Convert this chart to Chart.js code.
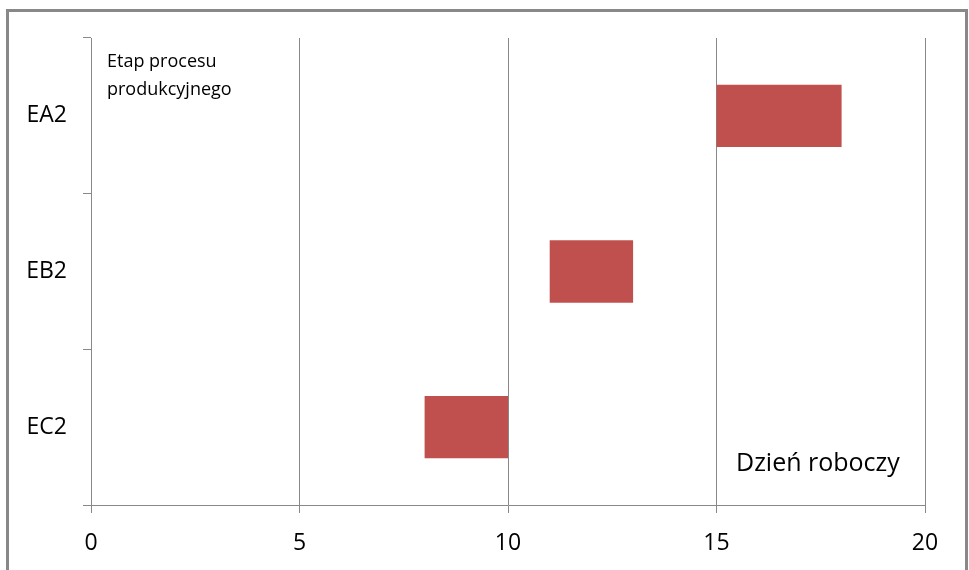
<!DOCTYPE html>
<html>
<head>
<meta charset="utf-8">
<script src="https://cdn.jsdelivr.net/npm/chart.js@4"></script>
<style>
  body { margin: 0; background: #fff; }
  canvas { display: block; }
</style>
</head>
<body>
<canvas id="gantt" width="969" height="570"></canvas>
<script>
// etapy procesu i dni (start / koniec)
const categories = ['EA2', 'EB2', 'EC2'];
const startDays = [15, 11, 8];
const endDays = [18, 13, 10];
const xTicks = [0, 5, 10, 15, 20];

const fontFamily = '"Open Sans", "Liberation Sans", sans-serif';
const gridColor = '#888888';

// ramka i podpisy
const extras = {
    id: 'extras',
    beforeDraw(chart) {
        const ctx = chart.ctx;
        ctx.save();
        ctx.fillStyle = '#fff';
        ctx.fillRect(0, 0, chart.width, chart.height);
        ctx.strokeStyle = '#888888';
        ctx.lineWidth = 3;
        ctx.strokeRect(7.5, 10.5, 959, 620);
        ctx.restore();
    },
    afterDraw(chart) {
        const ctx = chart.ctx;
        ctx.save();
        ctx.fillStyle = '#000';
        ctx.textBaseline = 'alphabetic';
        ctx.font = '18px ' + fontFamily;
        ctx.fillText('Etap procesu', 107, 67);
        ctx.fillText('produkcyjnego', 107, 95);
        ctx.font = '25px ' + fontFamily;
        ctx.fillText('Dzień roboczy', 736, 471);
        ctx.restore();
    }
};

const ctx = document.getElementById('gantt').getContext('2d');
const chart = new Chart(ctx, {
    type: 'bar',
    data: {
        labels: categories,
        datasets: [{
            data: startDays.map((s, i) => [s, endDays[i]]),
            backgroundColor: '#C0504D',
            borderColor: '#C0504D',
            borderWidth: 0,
            barPercentage: 0.4,
            categoryPercentage: 1
        }]
    },
    options: {
        indexAxis: 'y',
        responsive: false,
        animation: false,
        layout: { padding: { top: 38, right: 44, left: 0, bottom: 0 } },
        plugins: {
            legend: { display: false },
            tooltip: { enabled: false }
        },
        scales: {
            x: {
                min: xTicks[0],
                max: xTicks[xTicks.length - 1],
                ticks: {
                    stepSize: 5,
                    color: '#000',
                    font: { family: fontFamily, size: 23 },
                    padding: 17
                },
                grid: { color: gridColor, tickLength: 8 },
                border: { color: gridColor },
                afterFit(scale) { scale.height = 65; }
            },
            y: {
                ticks: {
                    color: '#000',
                    font: { family: fontFamily, size: 23 },
                    padding: 16
                },
                grid: {
                    offset: true,
                    drawOnChartArea: false,
                    color: gridColor,
                    tickLength: 8
                },
                border: { color: gridColor },
                afterFit(scale) { scale.width = 91; }
            }
        }
    },
    plugins: [extras]
});
</script>
</body>
</html>
